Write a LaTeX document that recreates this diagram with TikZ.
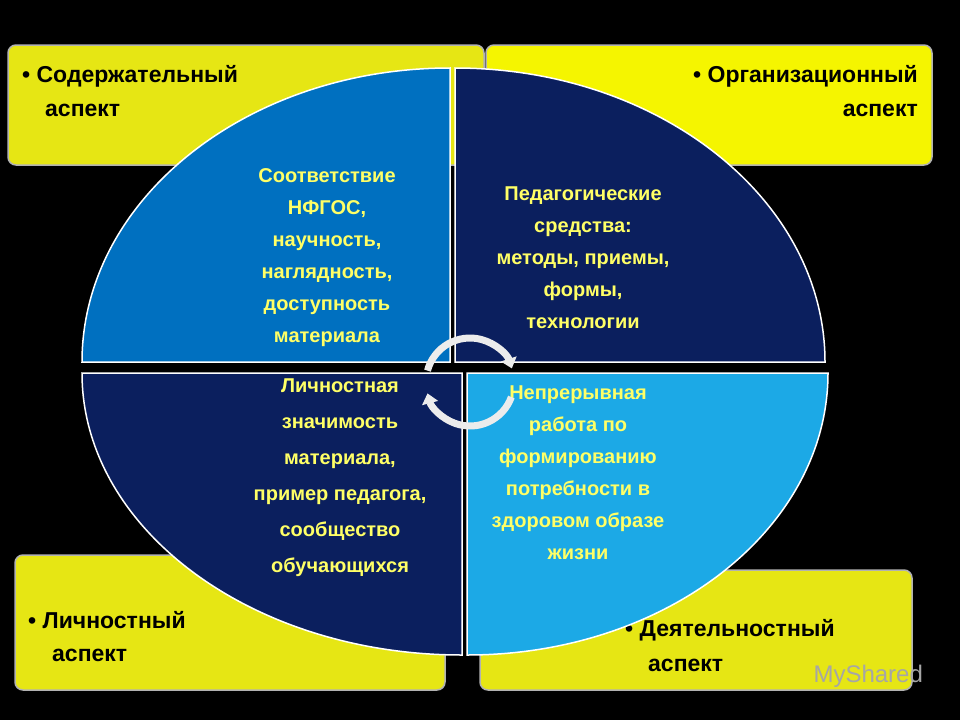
\documentclass[tikz,border=0pt]{standalone}
\usepackage{fontspec}
\setmainfont{Liberation Sans}
\usetikzlibrary{arrows.meta}
\definecolor{ybox}{HTML}{E6E614}
\definecolor{ybox2}{HTML}{F5F500}
\definecolor{qlight}{HTML}{0070C0}
\definecolor{qdark}{HTML}{0B1F5E}
\definecolor{qcyan}{HTML}{1CA9E6}
\definecolor{ytext}{HTML}{FFFF66}
\begin{document}
\begin{tikzpicture}[x=1pt,y=-1pt,
  aspbox/.style={fill=#1,draw=gray!60,line width=1.5pt,rounded corners=8pt},
  quad/.style={fill=#1,draw=white,line width=1.5pt},
  asptext/.style={font=\bfseries\fontsize{23}{34}\selectfont,text=black,inner sep=0pt},
  qtext/.style={font=\bfseries\fontsize{20}{32}\selectfont,text=ytext,align=center,inner sep=0pt},
  cyc/.style={draw=gray!15,line width=7pt,-{Triangle[length=10pt,width=16pt]}}]
\fill[black] (0,0) rectangle (960,720);
\useasboundingbox (0,0) rectangle (960,720);
\draw[aspbox=ybox] (8,45) rectangle (484,165);
\draw[aspbox=ybox2] (486,45) rectangle (932,165);
\draw[aspbox=ybox] (15,555) rectangle (445,690);
\draw[aspbox=ybox] (480,570) rectangle (912,690);
\node[asptext,anchor=west] (a1) at (22,76) {• Содержательный};
\node[asptext,anchor=west] (a1b) at (45,110) {аспект};
\node[asptext,anchor=east] (a2) at (918,76) {• Организационный};
\node[asptext,anchor=east] (a2b) at (918,110) {аспект};
\node[asptext,anchor=west] (a3) at (28,620) {• Личностный};
\node[asptext,anchor=west] (a3b) at (52,655) {аспект};
\node[asptext,anchor=west] (a4) at (625,630) {• Деятельностный};
\node[asptext,anchor=west] (a4b) at (648,665) {аспект};
\draw[quad=qlight] (450,362) -- ++(-368,0) arc[start angle=180,end angle=270,x radius=368,y radius=294] -- cycle;
\draw[quad=qdark] (455,362) -- ++(0,-294) arc[start angle=270,end angle=360,x radius=370,y radius=294] -- cycle;
\draw[quad=qdark] (462,373) -- ++(-380,0) arc[start angle=180,end angle=90,x radius=380,y radius=282] -- cycle;
\draw[quad=qcyan] (467,373) -- ++(0,282) arc[start angle=90,end angle=0,x radius=361,y radius=282] -- cycle;
\node[qtext] (t1) at (327,258) {Соответствие\\НФГОС,\\научность,\\наглядность,\\доступность\\материала};
\node[qtext] (t2) at (583,258) {Педагогические\\средства:\\методы, приемы,\\формы,\\технологии};
\node[qtext,font=\bfseries\fontsize{20}{36}\selectfont] (t3) at (340,478) {Личностная\\значимость\\материала,\\пример педагога,\\сообщество\\обучающихся};
\node[qtext] (t4) at (578,473) {Непрерывная\\работа по\\формированию\\потребности в\\здоровом образе\\жизни};
\coordinate (cc) at (470,382);
\draw[cyc] ([shift={(195:44)}]cc) arc[start angle=195,end angle=342,radius=44];
\draw[cyc] ([shift={(20:44)}]cc) arc[start angle=20,end angle=165,radius=44];
\node[text=gray!70,font=\fontsize{24}{24}\selectfont,anchor=west] (wm) at (810,676) {MyShared};
\end{tikzpicture}
\end{document}
